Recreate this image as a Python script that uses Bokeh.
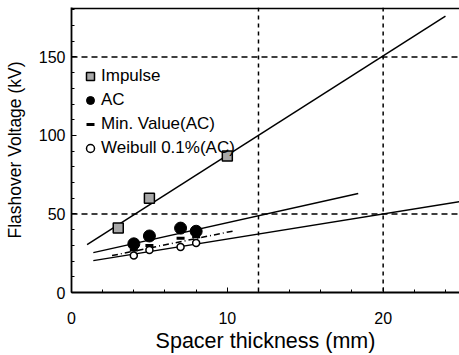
from bokeh.plotting import figure
from bokeh.models import Span, Legend, LegendItem, SingleIntervalTicker, Range1d
from bokeh.embed import file_html
from bokeh.resources import INLINE

# Data
impulse_x = [3, 5, 10]
impulse_y = [41, 60, 87]
ac_x = [4, 5, 7, 8]
ac_y = [31, 36, 41, 39]
minac_x = [4, 5, 7, 8]
minac_y = [27, 30, 34.5, 35.5]
weibull_x = [4, 5, 7, 8]
weibull_y = [23.5, 27, 29, 31.5]

# Fitted lines (end points)
impulse_fit_x = [1.0, 24.0]
impulse_fit_y = [30.5, 176.0]
ac_fit_x = [1.4, 18.4]
ac_fit_y = [25.4, 63.0]
minac_fit_x = [2.6, 10.5]
minac_fit_y = [23.5, 39.4]
weibull_fit_x = [1.4, 25.0]
weibull_fit_y = [20.3, 58.0]

ref_y = [50, 150]
ref_x = [12, 20]

FONT = "Liberation Sans"

p = figure(width=459, height=355, x_range=Range1d(0, 24.9), y_range=Range1d(0, 181.5),
           output_backend="svg", toolbar_location=None,
           min_border_left=71, min_border_right=0, min_border_top=7, min_border_bottom=63)
p.outline_line_color = None
p.xgrid.visible = False
p.ygrid.visible = False

for ax, ticker in ((p.xaxis[0], SingleIntervalTicker(interval=10, num_minor_ticks=5)),
                   (p.yaxis[0], SingleIntervalTicker(interval=50, num_minor_ticks=5))):
    ax.ticker = ticker
    ax.major_tick_in = 5
    ax.major_tick_out = 0
    ax.minor_tick_in = 3
    ax.minor_tick_out = 0
    ax.axis_line_width = 1.8
    ax.axis_line_color = "black"
    ax.major_tick_line_color = "black"
    ax.minor_tick_line_color = "black"
    ax.major_label_text_font = FONT
    ax.major_label_text_font_size = "16px"
    ax.major_label_text_color = "black"
    ax.axis_label_text_font = FONT
    ax.axis_label_text_font_style = "normal"
    ax.axis_label_text_color = "black"

p.xaxis.axis_label = "Spacer thickness (mm)"
p.yaxis.axis_label = "Flashover Voltage (kV)"
p.xaxis.axis_label_text_font_size = "21.5px"
p.yaxis.axis_label_text_font_size = "17.5px"
p.xaxis.major_label_standoff = 19
p.xaxis.axis_label_standoff = 2
p.yaxis.major_label_standoff = 6
p.yaxis.axis_label_standoff = 11

# top border
p.add_layout(Span(location=181, dimension="width", line_color="black", line_width=1.8))
for yv in ref_y:
    p.add_layout(Span(location=yv, dimension="width", line_color="black",
                      line_width=1.5, line_dash="6 4"))
for xv in ref_x:
    p.add_layout(Span(location=xv, dimension="height", line_color="black",
                      line_width=1.5, line_dash="4 4"))

p.line(impulse_fit_x, impulse_fit_y, line_color="black", line_width=1.5)
p.line(ac_fit_x, ac_fit_y, line_color="black", line_width=1.5)
p.line(weibull_fit_x, weibull_fit_y, line_color="black", line_width=1.5)
p.line(minac_fit_x, minac_fit_y, line_color="black", line_width=1.5, line_dash="6 3 1 3")

r_imp = p.scatter(impulse_x, impulse_y, marker="square", size=10, fill_color="#a8a8a8",
                  line_color="black", line_width=1.5)
r_ac = p.scatter(ac_x, ac_y, marker="circle", size=12, fill_color="black", line_color="black")
r_min = p.scatter(minac_x, minac_y, marker="dash", size=8, line_color="black", line_width=3)
r_wb = p.scatter(weibull_x, weibull_y, marker="circle", size=7, fill_color="white",
                 line_color="black", line_width=1.5)

legend = Legend(items=[LegendItem(label="Impulse", renderers=[r_imp]),
                       LegendItem(label="AC", renderers=[r_ac]),
                       LegendItem(label="Min. Value(AC)", renderers=[r_min]),
                       LegendItem(label="Weibull 0.1%(AC)", renderers=[r_wb])],
                location=(9, 134), padding=0, spacing=4, glyph_width=20, glyph_height=20,
                label_height=20, label_standoff=1, margin=0,
                border_line_color=None, background_fill_alpha=0,
                label_text_font=FONT, label_text_font_size="17px", label_text_color="black")
p.add_layout(legend)

open("out.html", "w").write(file_html(p, INLINE))
